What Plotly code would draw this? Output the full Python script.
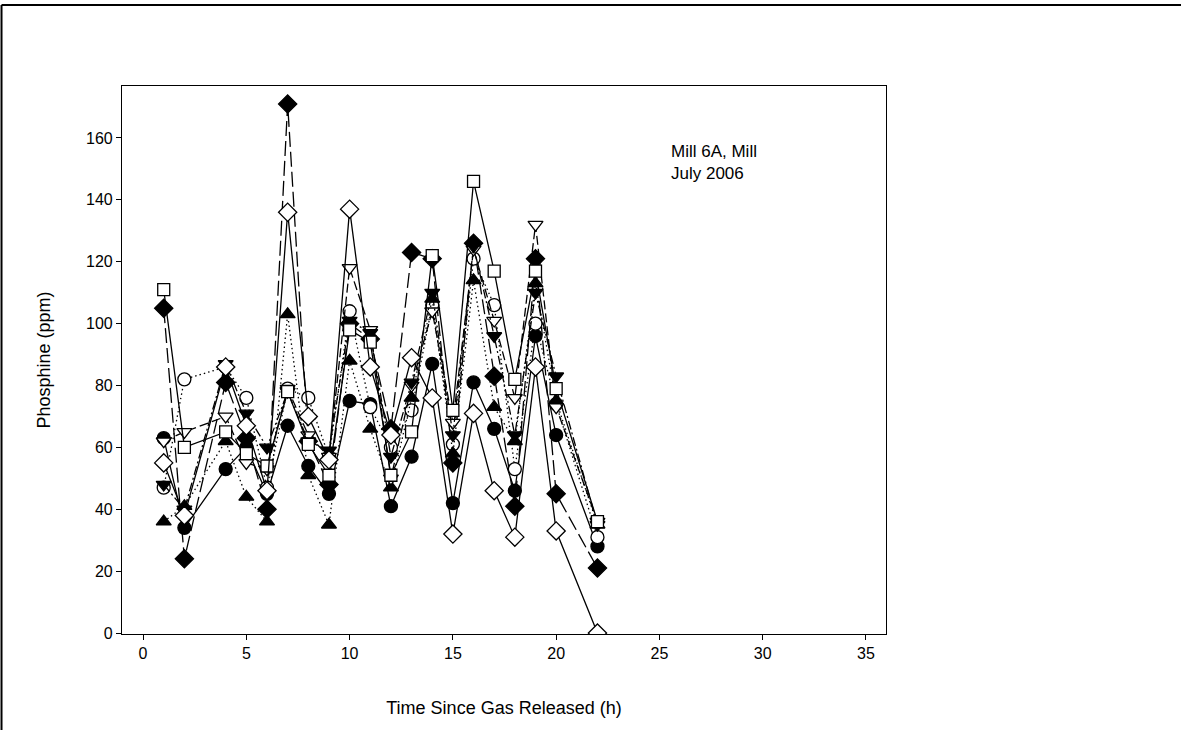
import plotly.graph_objects as go

hours = [1, 2, 4, 5, 6, 7, 8, 9, 10, 11, 12, 13, 14, 15, 16, 17, 18, 19, 20, 22]

s_filled_circle = [63, 34, 53, 60, 45, 67, 54, 45, 75, 74, 41, 57, 87, 42, 81, 66, 46, 96, 64, 28]
s_open_circle = [47, 82, 86, 76, 47, 79, 76, 57, 104, 73, 60, 72, 106, 61, 121, 106, 53, 100, 74, 31]
s_filled_tri_up = [36, 41, 62, 44, 36, 103, 51, 35, 88, 66, 47, 76, 108, 58, 114, 73, 62, 113, 75, 35]
s_open_tri_down = [62, 65, 70, 55, 53, 79, 64, 57, 118, 98, 50, 80, 104, 68, 124, 101, 76, 132, 73, 36]
s_filled_tri_down = [48, 40, 87, 71, 60, 78, 62, 59, 101, 97, 57, 81, 110, 64, 125, 96, 64, 110, 83, 35]
s_open_square = [111, 60, 65, 58, 54, 78, 61, 51, 98, 94, 51, 65, 122, 72, 146, 117, 82, 117, 79, 36]
s_filled_diamond = [105, 24, 81, 63, 40, 171, 62, 48, 100, 95, 66, 123, 121, 55, 126, 83, 41, 121, 45, 21]
s_open_diamond = [55, 38, 86, 67, 46, 136, 70, 56, 137, 86, 64, 89, 76, 32, 71, 46, 31, 86, 33, 0]

x_ticks = [0, 5, 10, 15, 20, 25, 30, 35]
y_ticks = [0, 20, 40, 60, 80, 100, 120, 140, 160]

series = [
    (s_filled_diamond, "diamond", "black", 14, "15px,5px"),
    (s_filled_circle, "circle", "black", 13, "solid"),
    (s_open_circle, "circle", "white", 13, "1.5px,3px"),
    (s_filled_tri_up, "triangle-up", "black", 13, "1.5px,3px"),
    (s_open_tri_down, "triangle-down", "white", 13, "9px,4px"),
    (s_filled_tri_down, "triangle-down", "black", 13, "9px,3px,2px,3px"),
    (s_open_square, "square", "white", 12, "solid"),
    (s_open_diamond, "diamond", "white", 14, "solid"),
]

fig = go.Figure()
for vals, sym, fill, size, dash in series:
    fig.add_trace(go.Scatter(
        x=hours, y=vals, mode="lines+markers",
        line=dict(color="black", width=1.3, dash=dash),
        marker=dict(symbol=sym, size=size, color=fill,
                    line=dict(color="black", width=1.3)),
        showlegend=False,
    ))

fig.add_annotation(x=25.45, y=159.3, xref="x", yref="y", xanchor="left", yanchor="top",
                   text="Mill 6A, Mill<br>July 2006", showarrow=False, align="left",
                   font=dict(size=17, color="black"))

# outer frame: only the top and left edges are inside the page
fig.add_shape(type="line", xref="paper", yref="paper",
              x0=-0.1577, x1=1.5, y0=1.1478, y1=1.1478,
              line=dict(color="black", width=2), layer="below")
fig.add_shape(type="line", xref="paper", yref="paper",
              x0=-0.1577, x1=-0.1577, y0=-0.3, y1=1.1478,
              line=dict(color="black", width=2), layer="below")

axis_common = dict(showline=True, linecolor="black", linewidth=1.2, mirror=True,
                   ticks="outside", ticklen=5, tickcolor="black", tickwidth=1,
                   showgrid=False, zeroline=False,
                   tickfont=dict(size=16, color="black"))

fig.update_layout(
    width=1181, height=730,
    margin=dict(l=122, r=295, t=86, b=96),
    paper_bgcolor="white", plot_bgcolor="white",
    font=dict(family="Liberation Sans, Arial, sans-serif", color="black"),
    xaxis=dict(range=[-1.02, 35.97], tickvals=x_ticks,
               title=dict(text="Time Since Gas Released (h)", font=dict(size=18), standoff=40),
               **axis_common),
    yaxis=dict(range=[-0.3, 176.8], tickvals=y_ticks,
               title=dict(text="Phosphine (ppm)", font=dict(size=18), standoff=30),
               **axis_common),
)

fig.write_html("out.html", config={"displayModeBar": False},
               post_script="document.body.style.margin='0';document.body.style.overflow='hidden';")
